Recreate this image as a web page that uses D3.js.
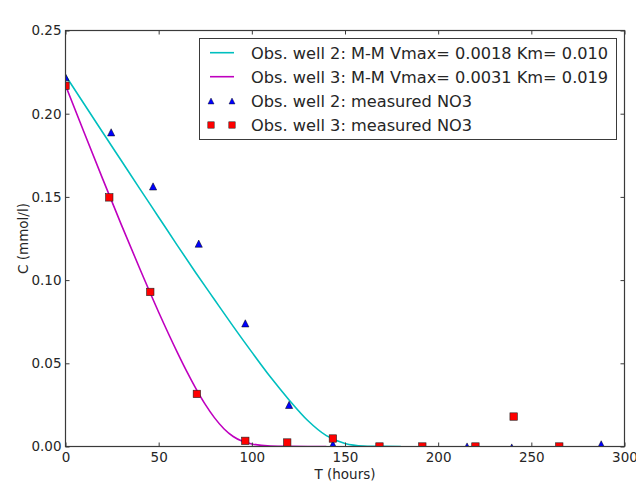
<!DOCTYPE html>
<html>
<head>
<meta charset="utf-8">
<script src="https://cdn.jsdelivr.net/npm/d3@7"></script>
<style>
  html, body { margin: 0; padding: 0; background: #fff; }
  svg { display: block; }
  text { font-family: "DejaVu Sans", sans-serif; fill: #262626; }
</style>
</head>
<body>
<script>
// ---- Data ----
const xTicks = [0, 50, 100, 150, 200, 250, 300];
const yTicks = [0.00, 0.05, 0.10, 0.15, 0.20, 0.25];

// measured NO3, well 2 (triangles)
const well2T = [0, 24.5, 47, 71.5, 96.5, 120, 143.5, 215.5, 239.5, 287.5];
const well2C = [0.222, 0.1888, 0.1563, 0.1219, 0.074, 0.025, 0.0014, 0.0, -0.0006, 0.0013];

// measured NO3, well 3 (squares)
const well3T = [0, 23.5, 45.5, 70.5, 96.5, 119, 143.5, 168.5, 191.5, 220, 240.5, 265];
const well3C = [0.2168, 0.1497, 0.0929, 0.0316, 0.0034, 0.0024, 0.0048, 0.0, 0.0, 0.0, 0.018, 0.0];

// M-M model curves
const fit2T = [0, 10, 20, 30, 40, 50, 60, 70, 80, 90, 100, 110, 120, 130, 140, 150, 160, 170, 180];
const fit2C = [0.223, 0.2058, 0.1887, 0.1717, 0.1547, 0.1378, 0.1209, 0.1043, 0.0882, 0.0722, 0.0567, 0.0417, 0.028, 0.0156, 0.0065, 0.0018, 0.0003, 0.00005, 0];

const fit3T = [0, 10, 20, 30, 40, 50, 60, 65, 70, 75, 80, 85, 90, 95, 100, 110, 120, 130, 140];
const fit3C = [0.217, 0.1887, 0.1607, 0.1332, 0.1065, 0.0807, 0.0566, 0.0453, 0.0348, 0.0253, 0.0172, 0.0107, 0.006, 0.0031, 0.0015, 0.0003, 0.00007, 0.00001, 0];

const legendLabels = [
  "Obs. well 2: M-M Vmax= 0.0018 Km= 0.010",
  "Obs. well 3: M-M Vmax= 0.0031 Km= 0.019",
  "Obs. well 2: measured NO3",
  "Obs. well 3: measured NO3"
];
const xLabel = "T (hours)";
const yLabel = "C (mmol/l)";

// ---- Layout ----
const W = 636, H = 481;
const plot = { left: 65.5, right: 624.5, top: 30.5, bottom: 446.5 };
const cyan = "#00bfbf", magenta = "#bf00bf", blue = "#0000ff", red = "#ff0000";
const frameColor = "#3a3a3a";

const svg = d3.select("body").append("svg")
  .attr("width", W).attr("height", H)
  .style("background", "#fff");

const x = d3.scaleLinear().domain([0, 300]).range([plot.left, plot.right]);
const y = d3.scaleLinear().domain([0, 0.25]).range([plot.bottom, plot.top]);

svg.append("defs").append("clipPath").attr("id", "clip")
  .append("rect")
  .attr("x", plot.left).attr("y", plot.top)
  .attr("width", plot.right - plot.left).attr("height", plot.bottom - plot.top);

const g = svg.append("g").attr("clip-path", "url(#clip)");

const line = d3.line().x(d => x(d[0])).y(d => y(d[1])).curve(d3.curveMonotoneX);

g.append("path")
  .datum(fit2T.map((t, i) => [t, fit2C[i]]))
  .attr("d", line).attr("fill", "none")
  .attr("stroke", cyan).attr("stroke-width", 1.6);

g.append("path")
  .datum(fit3T.map((t, i) => [t, fit3C[i]]))
  .attr("d", line).attr("fill", "none")
  .attr("stroke", magenta).attr("stroke-width", 1.6);

const tri = d3.symbol().type(d3.symbolTriangle).size(30);
const triPath = (cx, cy, s) => {
  const h = s;
  return `M${cx},${cy - h}L${cx + h},${cy + h}L${cx - h},${cy + h}Z`;
};

g.selectAll(".tri").data(well2T.map((t, i) => [t, well2C[i]]))
  .enter().append("path")
  .attr("d", d => triPath(x(d[0]), y(d[1]), 3.6))
  .attr("fill", blue).attr("stroke", "#000").attr("stroke-width", 0.5);

g.selectAll(".sq").data(well3T.map((t, i) => [t, well3C[i]]))
  .enter().append("rect")
  .attr("x", d => x(d[0]) - 3.7).attr("y", d => y(d[1]) - 3.7)
  .attr("width", 7.4).attr("height", 7.4)
  .attr("fill", red).attr("stroke", "#222").attr("stroke-width", 0.6);

// ---- Axes (frame + inward ticks on all sides) ----
const axB = d3.axisBottom(x).tickValues(xTicks).tickSize(-4).tickPadding(6).tickFormat(d3.format("d"));
const axT = d3.axisTop(x).tickValues(xTicks).tickSize(-4).tickFormat("");
const axL = d3.axisLeft(y).tickValues(yTicks).tickSize(-4).tickPadding(4).tickFormat(d3.format(".2f"));
const axR = d3.axisRight(y).tickValues(yTicks).tickSize(-4).tickFormat("");

function styleAxis(sel) {
  sel.select(".domain").remove();
  sel.selectAll(".tick line").attr("stroke", frameColor).attr("stroke-width", 1);
  sel.selectAll(".tick text")
    .style("font-family", "'DejaVu Sans', sans-serif")
    .style("font-size", "13.5px").attr("fill", "#262626");
}
svg.append("g").attr("transform", `translate(0,${plot.bottom})`).call(axB).call(styleAxis);
svg.append("g").attr("transform", `translate(0,${plot.top})`).call(axT).call(styleAxis);
svg.append("g").attr("transform", `translate(${plot.left},0)`).call(axL).call(styleAxis);
svg.append("g").attr("transform", `translate(${plot.right},0)`).call(axR).call(styleAxis);

svg.append("rect")
  .attr("x", plot.left).attr("y", plot.top)
  .attr("width", plot.right - plot.left).attr("height", plot.bottom - plot.top)
  .attr("fill", "none").attr("stroke", frameColor).attr("stroke-width", 1.2);

// ---- Axis labels ----
svg.append("text").text(xLabel)
  .attr("x", (plot.left + plot.right) / 2).attr("y", 479)
  .attr("text-anchor", "middle").style("font-size", "13.5px");

svg.append("text").text(yLabel)
  .attr("transform", `translate(28,${(plot.top + plot.bottom) / 2}) rotate(-90)`)
  .attr("text-anchor", "middle").style("font-size", "13.5px");

// ---- Legend ----
const leg = svg.append("g");
leg.append("rect")
  .attr("x", 199.5).attr("y", 38.5).attr("width", 417).attr("height", 101)
  .attr("fill", "#fff").attr("stroke", frameColor).attr("stroke-width", 1);

const rowY = [52.7, 76.7, 101, 125];
const kinds = ["line", "line", "tri", "sq"];
const kColors = [cyan, magenta, blue, red];
legendLabels.forEach((lab, i) => {
  const cy = rowY[i];
  if (kinds[i] === "line") {
    leg.append("line").attr("x1", 210).attr("x2", 234).attr("y1", cy).attr("y2", cy)
      .attr("stroke", kColors[i]).attr("stroke-width", 1.6);
  } else if (kinds[i] === "tri") {
    [211, 232].forEach(mx => leg.append("path").attr("d", triPath(mx, cy, 3))
      .attr("fill", blue).attr("stroke", "#000").attr("stroke-width", 0.4));
  } else {
    [211, 232].forEach(mx => leg.append("rect")
      .attr("x", mx - 3.2).attr("y", cy - 3.2).attr("width", 6.4).attr("height", 6.4)
      .attr("fill", red).attr("stroke", "#222").attr("stroke-width", 0.5));
  }
  leg.append("text").text(lab)
    .attr("x", 251).attr("y", cy + 5.8)
    .style("font-size", "16.2px");
});
</script>
</body>
</html>
